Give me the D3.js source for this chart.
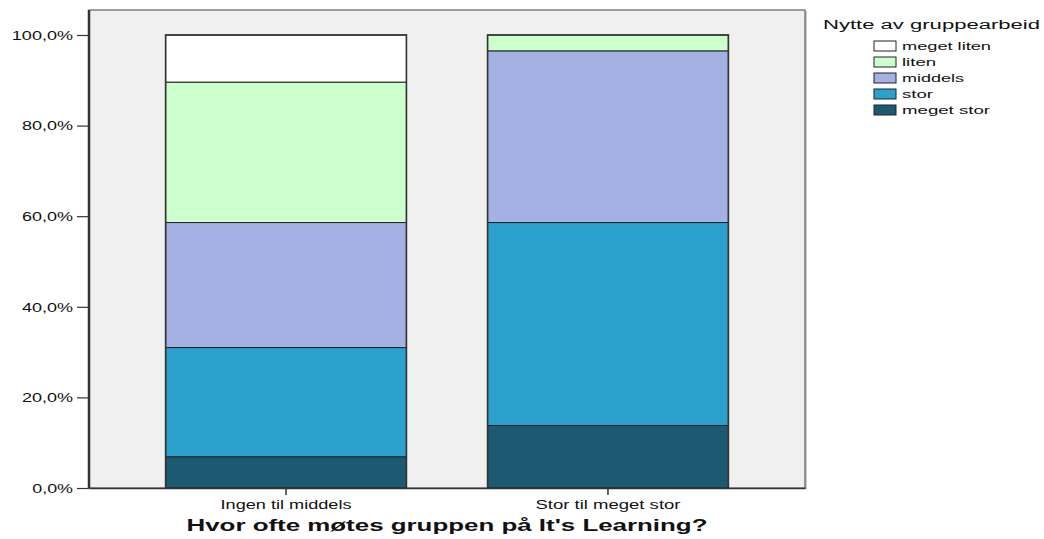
<!DOCTYPE html>
<html>
<head>
<meta charset="utf-8">
<script src="https://cdn.jsdelivr.net/npm/d3@7"></script>
<style>
  body { margin: 0; background: #fff; }
  text { font-family: "Liberation Sans", Arial, sans-serif; fill: #111; }
</style>
</head>
<body>
<script>
// categories on the x axis
categories = ["Ingen til middels", "Stor til meget stor"]
// answer levels, stacked bottom to top
levels = ["meget stor", "stor", "middels", "liten", "meget liten"]
// percent per category
megetStor = [6.9, 13.8]
stor = [24.1, 44.8]
middels = [27.6, 37.9]
liten = [31.0, 3.5]
megetLiten = [10.4, 0.0]
yTicks = [0, 20, 40, 60, 80, 100]

colors = ["#1b5a71", "#2ba2cd", "#a5b1e3", "#ccffcc", "#ffffff"]

width = 1044
height = 539
// note: "top" is taken by window.top, so plot edges get their own names
plotLeft = 89
plotRight = 805
plotTop = 10
plotBottom = 488

table = categories.map((c, i) => ({
  cat: c,
  "meget stor": megetStor[i],
  "stor": stor[i],
  "middels": middels[i],
  "liten": liten[i],
  "meget liten": megetLiten[i]
}))

series = d3.stack().keys(levels)(table)

x = d3.scaleBand().domain(categories).range([plotLeft, plotRight])
  .paddingInner(0.252).paddingOuter(0.238)
y = d3.scaleLinear().domain([0, 100]).range([plotBottom, 35])
z = d3.scaleOrdinal().domain(levels).range(colors)

// the source image is stretched sideways, so text gets squeezed to the measured width
function stretch(sel, w) {
  sel.attr("textLength", w).attr("lengthAdjust", "spacingAndGlyphs")
}

var svg = d3.select("body").append("svg")
  .attr("width", width)
  .attr("height", height)

// plot frame with a soft shadow on the right
svg.append("rect")
  .attr("x", plotLeft + 2).attr("y", plotTop + 1)
  .attr("width", plotRight - plotLeft).attr("height", plotBottom - plotTop)
  .attr("fill", "#cfcfcf")
svg.append("rect")
  .attr("x", plotLeft).attr("y", plotTop)
  .attr("width", plotRight - plotLeft).attr("height", plotBottom - plotTop)
  .attr("fill", "#f0f0f0")
  .attr("stroke", "#444").attr("stroke-width", 1)

// bars
svg.append("g")
  .selectAll("g")
  .data(series)
  .join("g")
    .attr("fill", d => z(d.key))
  .selectAll("rect")
  .data(d => d)
  .join("rect")
    .attr("x", d => x(d.data.cat))
    .attr("y", d => y(d[1]))
    .attr("width", x.bandwidth())
    .attr("height", d => y(d[0]) - y(d[1]))
    .attr("stroke", "#222")
    .attr("stroke-width", 1)

// outer outline of each bar, a bit heavier on the sides
svg.append("g")
  .selectAll("rect")
  .data(categories)
  .join("rect")
    .attr("x", d => x(d))
    .attr("y", y(100))
    .attr("width", x.bandwidth())
    .attr("height", y(0) - y(100))
    .attr("fill", "none")
    .attr("stroke", "#333")
    .attr("stroke-width", 1.6)

// y axis
const yAxis = svg.append("g")
  .attr("transform", `translate(${plotLeft},0)`)
  .call(d3.axisLeft(y).tickValues(yTicks).tickSize(12).tickFormat(d => d3.format(".1f")(d).replace(".", ",") + "%"))
yAxis.select(".domain").remove()
yAxis.selectAll(".tick line").attr("stroke", "#333").attr("stroke-width", 1.2)
yAxis.selectAll(".tick text")
  .attr("x", -16)
  .attr("dy", "0.35em")
  .attr("font-size", 12)
  .attr("fill", "#111")
  .each(function(d) { stretch(d3.select(this), d3.select(this).text().length * 10.2) })
svg.append("line")
  .attr("x1", plotLeft).attr("x2", plotLeft)
  .attr("y1", plotTop).attr("y2", plotBottom)
  .attr("stroke", "#333").attr("stroke-width", 2.5)

// x axis
const xAxis = svg.append("g")
  .attr("transform", `translate(0,${plotBottom})`)
  .call(d3.axisBottom(x).tickSize(7).tickSizeOuter(0))
xAxis.select(".domain").attr("stroke", "#333").attr("stroke-width", 1.5)
xAxis.selectAll(".tick line").attr("stroke", "#333").attr("stroke-width", 1.5)
const xLabelWidths = [131, 145]
xAxis.selectAll(".tick text")
  .attr("y", 21)
  .attr("dy", 0)
  .attr("font-size", 12)
  .attr("fill", "#111")
  .each(function(d, i) { stretch(d3.select(this), xLabelWidths[i]) })

// axis title
svg.append("text")
  .attr("x", (plotLeft + plotRight) / 2)
  .attr("y", 531)
  .attr("text-anchor", "middle")
  .attr("font-size", 16)
  .attr("font-weight", "bold")
  .text("Hvor ofte møtes gruppen på It's Learning?")
  .call(stretch, 521)

// legend
const legend = svg.append("g")
svg.append("text")
  .attr("x", 823)
  .attr("y", 29)
  .attr("font-size", 12.5)
  .text("Nytte av gruppearbeid")
  .call(stretch, 217)

const legendOrder = levels.slice().reverse()
const legendWidths = [89, 34, 62, 31, 88]
const rows = legend.selectAll("g")
  .data(legendOrder)
  .join("g")
    .attr("transform", (d, i) => `translate(874, ${46 + i * 16})`)

rows.append("rect")
  .attr("x", 0).attr("y", -5)
  .attr("width", 22).attr("height", 10)
  .attr("fill", d => z(d))
  .attr("stroke", "#222")
  .attr("stroke-width", 1)

rows.append("text")
  .attr("x", 28)
  .attr("y", 4)
  .attr("font-size", 11)
  .text(d => d)
  .each(function(d, i) { stretch(d3.select(this), legendWidths[i]) })
</script>
</body>
</html>
